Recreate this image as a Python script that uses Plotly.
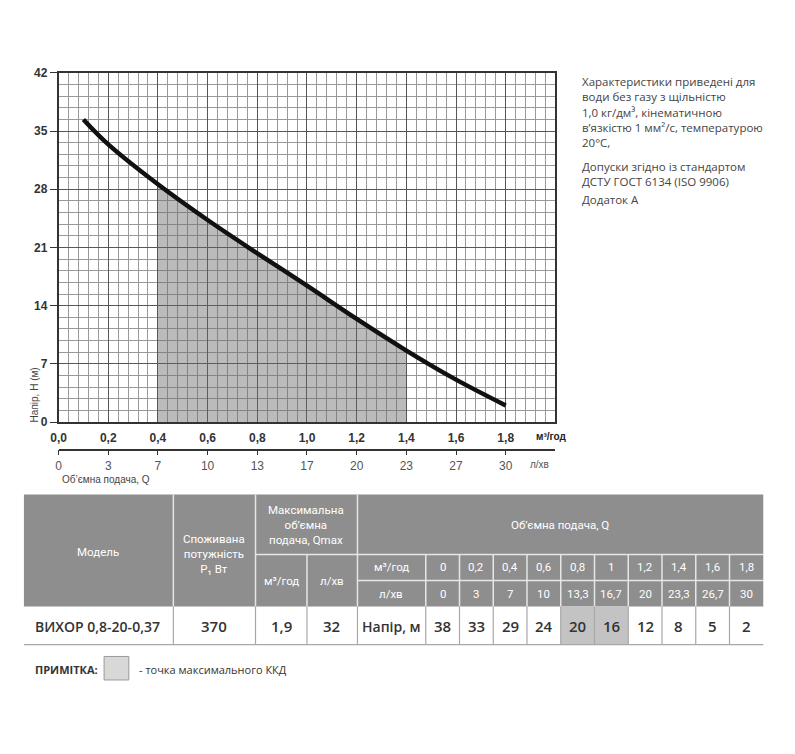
import plotly.graph_objects as go

# ---------------- data ----------------
q_m3h = [0, 0.2, 0.4, 0.6, 0.8, 1.0, 1.2, 1.4, 1.6, 1.8]
q_m3h_axis_labels = ["0,0", "0,2", "0,4", "0,6", "0,8", "1,0", "1,2", "1,4", "1,6", "1,8"]
q_lmin_axis_labels = ["0", "3", "7", "10", "13", "17", "20", "23", "27", "30"]
head_ticks = [0, 7, 14, 21, 28, 35, 42]

# curve as drawn on the chart
curve_q = [0.1, 0.2, 0.4, 0.6, 0.8, 1.0, 1.2, 1.4, 1.6, 1.8]
curve_h = [36.4, 33.4, 28.6, 24.3, 20.3, 16.4, 12.4, 8.6, 5.1, 2.0]
# shaded (max efficiency region) bounds
shade_q_min, shade_q_max = 0.4, 1.4

# table
model_name = "ВИХОР 0,8-20-0,37"
power_w = "370"
qmax_m3h = "1,9"
qmax_lmin = "32"
table_q_m3h = ["0", "0,2", "0,4", "0,6", "0,8", "1", "1,2", "1,4", "1,6", "1,8"]
table_q_lmin = ["0", "3", "7", "10", "13,3", "16,7", "20", "23,3", "26,7", "30"]
table_head = ["38", "33", "29", "24", "20", "16", "12", "8", "5", "2"]
highlight_idx = [4, 5]

info_lines = [
    "Характеристики приведені для",
    "води без газу з щільністю",
    "1,0 кг/дм³, кінематичною",
    "в’язкістю 1 мм²/с, температурою",
    "20°C,",
]
info_lines2 = ["Допуски згідно із стандартом", "ДСТУ ГОСТ 6134 (ISO 9906)"]
info_line3 = "Додаток А"

# figure sized so that the page (with default 8px body margin) fits the window
W, H = 779, 730
OFF = 8


def px(x):
    return (x - OFF) / W


def py(y):
    return 1 - (y - OFF) / H


fig = go.Figure()

# shaded area
sq = [q for q in curve_q if shade_q_min <= q <= shade_q_max]
sh = [h for q, h in zip(curve_q, curve_h) if shade_q_min <= q <= shade_q_max]
fig.add_trace(go.Scatter(x=sq, y=sh, mode="lines", line=dict(width=0, shape="spline"),
                         fill="tozeroy", fillcolor="rgba(105,105,105,0.45)",
                         showlegend=False, hoverinfo="skip"))
# curve
fig.add_trace(go.Scatter(x=curve_q, y=curve_h, mode="lines",
                         line=dict(color="#111111", width=4.5, shape="spline"),
                         showlegend=False))
# dummy trace for secondary x axis
fig.add_trace(go.Scatter(x=[0], y=[0], xaxis="x2", mode="markers",
                         marker=dict(opacity=0), showlegend=False, hoverinfo="skip"))

x0, x1 = 51, 553
y0, y1 = 67, 423

fig.update_layout(
    width=W, height=H,
    margin=dict(l=0, r=0, t=0, b=0),
    paper_bgcolor="white", plot_bgcolor="white",
    xaxis=dict(
        domain=[px(x0), px(x1)], range=[0, 2.0],
        tickvals=q_m3h, ticktext=q_m3h_axis_labels,
        tickfont=dict(family="Liberation Sans", size=12, color="#333333", weight="bold"),
        showgrid=True, gridcolor="#555555", gridwidth=1.3,
        minor=dict(dtick=0.04, tick0=0, showgrid=True, gridcolor="#999999", gridwidth=1),
        showline=True, linecolor="#333333", linewidth=1.5, mirror=True,
        ticks="", ticklabelstandoff=4, zeroline=False, fixedrange=True,
    ),
    yaxis=dict(
        domain=[py(y1), py(y0)], range=[0, 42],
        tickvals=head_ticks,
        tickfont=dict(family="Liberation Sans", size=12, color="#333333", weight="bold"),
        showgrid=True, gridcolor="#555555", gridwidth=1.3,
        minor=dict(dtick=1.4, tick0=0, showgrid=True, gridcolor="#999999", gridwidth=1),
        showline=True, linecolor="#333333", linewidth=1.5, mirror=True,
        ticks="outside", ticklen=7, tickcolor="#333333", zeroline=False, fixedrange=True,
    ),
    xaxis2=dict(
        overlaying="x", anchor="free", position=py(451), domain=[px(x0), px(x1)],
        range=[0, 2.0], tickvals=q_m3h, ticktext=q_lmin_axis_labels,
        tickfont=dict(family="Liberation Sans", size=12, color="#555555"),
        showgrid=False, showline=True, linecolor="#333333", linewidth=1.5,
        ticks="outside", ticklen=5, tickcolor="#333333", zeroline=False, fixedrange=True,
    ),
)

shapes = []
ann = []

def text(x, y, s, size=12, color="#333333", family="Open Sans", xanchor="center",
         weight="normal", angle=0):
    ann.append(dict(x=px(x), y=py(y), xref="paper", yref="paper", text=s, showarrow=False,
                    xanchor=xanchor, yanchor="middle", textangle=angle,
                    font=dict(size=size, color=color, family=family, weight=weight)))

# axis labels
text(549, 438, "м³/год", size=10, color="#222222", family="Liberation Sans", weight="bold")
text(537, 466, "л/хв", size=10, color="#555555", family="Liberation Sans")
text(52, 482, "Об’ємна подача, Q", size=10, color="#444444", family="Liberation Sans", xanchor="left")
text(27, 395, "Напір, Н (м)", size=10, color="#444444", family="Liberation Sans", angle=-90)

# info text block
for i, s in enumerate(info_lines):
    text(578, 76 + i * 15.5, s, size=11.5, color="#444444", xanchor="left")
for i, s in enumerate(info_lines2):
    text(578, 162 + i * 16, s, size=11.5, color="#444444", xanchor="left")
text(578, 196, info_line3, size=11.5, color="#444444", xanchor="left")

# ---------------- table ----------------
hdr = "#8e8e8e"
tx0, tx1 = 16, 763
r0, r1, r2, r3, r4 = 497, 558, 584.5, 611, 650
cols = [16, 167, 250, 302, 353, 422]
qcol0 = 422
qw = (tx1 - qcol0) / len(table_q_m3h)
qedges = [qcol0 + i * qw for i in range(len(table_q_m3h) + 1)]

def rect(xa, ya, xb, yb, fill, line=None, lw=0):
    shapes.append(dict(type="rect", xref="paper", yref="paper", x0=px(xa), x1=px(xb),
                       y0=py(yb), y1=py(ya), fillcolor=fill,
                       line=dict(color=line or fill, width=lw), layer="above"))

def line(xa, ya, xb, yb, color, lw=1.5):
    shapes.append(dict(type="line", xref="paper", yref="paper", x0=px(xa), x1=px(xb),
                       y0=py(ya), y1=py(yb), line=dict(color=color, width=lw), layer="above"))

rect(tx0, r0, tx1, r3, hdr)
for i in highlight_idx:
    rect(qedges[i], r3, qedges[i + 1], r4, "#c3c3c3")

wl = "#e6e6e6"
for x in [167, 250, 353]:
    line(x, r0, x, r3, wl)
line(302, r1, 302, r3, wl)
for x in qedges[:-1]:
    line(x, r1, x, r3, wl)
line(250, r1, tx1, r1, wl)
line(353, r2, tx1, r2, wl)

gl = "#a8a8a8"
for x in cols[1:] + qedges[1:-1]:
    line(x, r3, x, r4, gl, 1.2)
line(tx0, r4, tx1, r4, gl, 1.2)

hf = "Roboto"
text(91, 556, "Модель", size=11.5, color="white", family=hf)
text(208, 558, "Споживана<br>потужність<br>P₁ Вт", size=11.5, color="white", family=hf)
text(301.5, 528, "Максимальна<br>об’ємна<br>подача, Qmax", size=11.5, color="white", family=hf)
text(276, 585, "м³/год", size=11.5, color="white", family=hf)
text(327, 585, "л/хв", size=11.5, color="white", family=hf)
text(558, 528, "Об’ємна подача, Q", size=11.5, color="white", family=hf)
text(387, 571, "м³/год", size=11.5, color="white", family=hf)
text(387, 598, "л/хв", size=11.5, color="white", family=hf)
for i in range(len(table_q_m3h)):
    cx = (qedges[i] + qedges[i + 1]) / 2
    text(cx, 571, table_q_m3h[i], size=11.5, color="white", family=hf)
    text(cx, 598, table_q_lmin[i], size=11.5, color="white", family=hf)
    text(cx, 631, table_head[i], size=15, color="#333333", family="Open Sans", weight=600)

text(90, 631, model_name, size=14, color="#333333", weight=600)
text(208, 631, power_w, size=15, color="#333333", weight=600)
text(276, 631, qmax_m3h, size=15, color="#333333", weight=600)
text(327, 631, qmax_lmin, size=15, color="#333333", weight=600)
text(387, 631, "Напір, м", size=14, color="#333333", weight=600)

# note
text(25, 675, "ПРИМІТКА:", size=11, color="#333333", family="Open Sans", xanchor="left", weight="bold")
rect(97, 662, 122, 686, "#d8d8d8", "#9a9a9a", 1)
text(130, 675, "- точка максимального ККД", size=11, color="#333333", xanchor="left")

fig.update_layout(shapes=shapes, annotations=ann)
fig.write_html("out.html", config={"displayModeBar": False})
